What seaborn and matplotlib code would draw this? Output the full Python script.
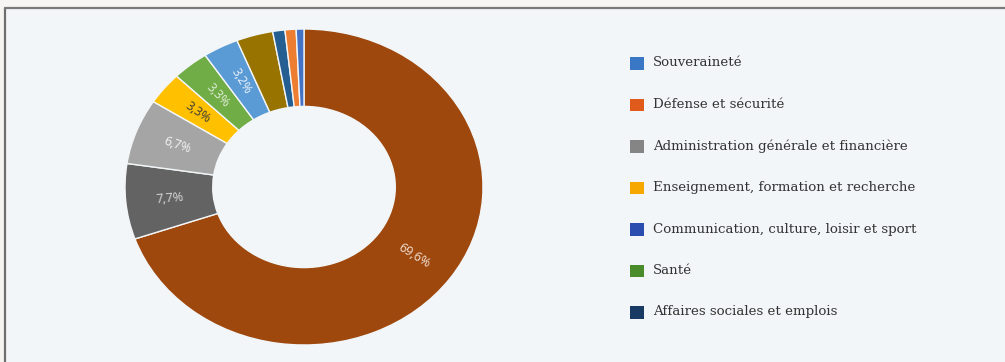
import matplotlib
matplotlib.use("Agg")
import matplotlib.pyplot as plt
import seaborn as sns
import numpy as np
from matplotlib.patches import Rectangle
from matplotlib.lines import Line2D

# ---- data (slices in clockwise order from 12 o'clock) ----
slice_values = [69.6, 7.7, 6.7, 3.3, 3.3, 3.2, 3.3, 1.1, 1.0, 0.7]
slice_colors = ["#9E480E", "#636363", "#A5A5A5", "#FFC000", "#70AD47",
                "#5B9BD5", "#997300", "#255E91", "#ED7D31", "#4472C4"]
slice_show = [True, True, True, True, True, True, False, False, False, False]
slice_label_colors = ["#f3e3d6", "#dadada", "#f4f4f4", "#3a3a3a", "#e3eedb",
                      "#eef4fb", "#ffffff", "#ffffff", "#ffffff", "#ffffff"]

legend_labels = ["Souveraineté", "Défense et sécurité",
                 "Administration générale et financière",
                 "Enseignement, formation et recherche",
                 "Communication, culture, loisir et sport",
                 "Santé", "Affaires sociales et emplois"]
legend_colors = ["#3A78C6", "#E05A1C", "#858585", "#F7A800",
                 "#2B4DB0", "#4A8C2C", "#193A63"]

sns.set_theme(style="white")
plt.rcParams["font.family"] = ["DejaVu Sans"]

W, H = 1005, 362
fig = plt.figure(figsize=(W / 100, H / 100), dpi=100, facecolor="#f7f5f2")

# panel background and border
fig.add_artist(Rectangle((5 / W, 0), 1, (H - 8.5) / H, transform=fig.transFigure,
                         facecolor="#f3f6f8", edgecolor="none", zorder=0))
fig.add_artist(Line2D([5 / W, 5 / W], [0, (H - 7.5) / H], transform=fig.transFigure,
                      color="#6e6e6e", lw=1.6, zorder=1))
fig.add_artist(Line2D([5 / W, 1], [(H - 8) / H, (H - 8) / H], transform=fig.transFigure,
                      color="#7a7a7a", lw=1.6, zorder=1))

# donut (slightly elliptical as in reference)
cx, cy, rx, ry = 304, 187, 179, 158
ax = fig.add_axes([(cx - rx) / W, (H - cy - ry) / H, 2 * rx / W, 2 * ry / H])
ax.patch.set_alpha(0)
wedges, _ = ax.pie(slice_values, colors=slice_colors, startangle=90, counterclock=False,
                   radius=1, wedgeprops=dict(width=0.49, edgecolor="#f3f6f8", linewidth=1.0))
ax.set_aspect("auto")
ax.set_xlim(-1, 1)
ax.set_ylim(-1, 1)
ax.axis("off")

r_lab = 0.755
for w, v, show, tc in zip(wedges, slice_values, slice_show, slice_label_colors):
    if not show:
        continue
    th = np.deg2rad((w.theta1 + w.theta2) / 2)
    x, y = r_lab * np.cos(th), r_lab * np.sin(th)
    rot = np.degrees(np.arctan2(ry * np.sin(th), rx * np.cos(th)))
    if rot > 90:
        rot -= 180
    elif rot < -90:
        rot += 180
    txt = f"{v:.1f}".replace(".", ",") + "%"
    ax.text(x, y, txt, ha="center", va="center", rotation=rot, rotation_mode="anchor",
            fontsize=9, color=tc, family=["Open Sans", "DejaVu Sans"])

# legend
y0, dy = 63, 41.5
for i, (lab, col) in enumerate(zip(legend_labels, legend_colors)):
    yc = y0 + i * dy
    fig.add_artist(Rectangle((630 / W, (H - yc - 6.5) / H), 13.5 / W, 12.5 / H,
                             transform=fig.transFigure, facecolor=col, edgecolor="none"))
    fig.text(653 / W, (H - yc) / H, lab, ha="left", va="center", fontsize=9.6,
             color="#333333", family=["DejaVu Serif"])

fig.savefig("out.png", dpi=100, facecolor=fig.get_facecolor())
